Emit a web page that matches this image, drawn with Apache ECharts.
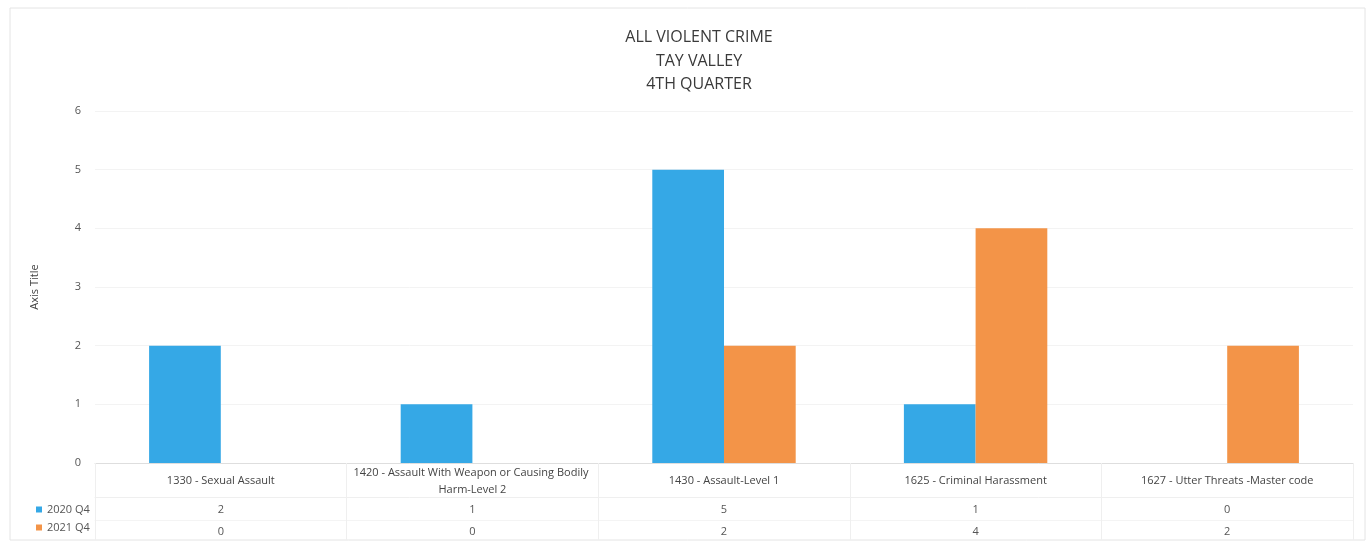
<!DOCTYPE html>
<html>
<head>
<meta charset="utf-8">
<script src="https://cdn.jsdelivr.net/npm/echarts@6/dist/echarts.min.js"></script>
<style>
html,body{margin:0;padding:0;background:#fff;}
#chart{width:1372px;height:546px;}
</style>
</head>
<body>
<div id="chart"></div>
<script>
const categories = [
  '1330 - Sexual Assault',
  '1420 - Assault With Weapon or Causing Bodily Harm-Level 2',
  '1430 - Assault-Level 1',
  '1625 - Criminal Harassment',
  '1627 - Utter Threats -Master code'
];
const seriesNames = ['2020 Q4', '2021 Q4'];
const values2020 = [2, 1, 5, 1, 0];
const values2021 = [0, 0, 2, 4, 2];
const yTicks = [0, 1, 2, 3, 4, 5, 6];

const FONT = 'Open Sans';
const chart = echarts.init(document.getElementById('chart'), null, {renderer: 'canvas'});
chart.setOption({
  backgroundColor: '#fff',
  textStyle: {fontFamily: FONT},
  animation: false,
  title: {
    text: 'ALL VIOLENT CRIME\nTAY VALLEY\n4TH QUARTER',
    left: 694,
    textAlign: 'center',
    top: 21,
    textStyle: {fontFamily: FONT, fontSize: 16, fontWeight: 'normal', color: '#3a3a3a', lineHeight: 23.5}
  },
  legend: {
    data: seriesNames,
    orient: 'vertical',
    left: 31,
    top: 499,
    itemWidth: 6,
    itemHeight: 6,
    itemGap: 7,
    icon: 'rect',
    textStyle: {fontFamily: FONT, fontSize: 11, color: '#555'}
  },
  graphic: [{
    type: 'rect',
    shape: {x: 10, y: 8, width: 1355, height: 532},
    style: {fill: 'none', stroke: '#e4e4e4', lineWidth: 1},
    silent: true
  }],
  grid: {left: 95, right: 19, top: 111, bottom: 83, containLabel: false},
  xAxis: [
    {
      type: 'category',
      data: categories,
      position: 'bottom',
      axisLine: {lineStyle: {color: '#dedede'}},
      axisTick: {show: true, interval: 0, length: 77, lineStyle: {color: '#efefef'}},
      axisLabel: {
        interval: 0, width: 245, overflow: 'break', verticalAlign: 'middle',
        margin: 18, fontSize: 11, lineHeight: 17, color: '#444'
      },
      splitLine: {show: false}
    },
    {
      type: 'category',
      data: values2020.map(String),
      position: 'bottom',
      offset: 34,
      axisLine: {lineStyle: {color: '#efefef'}},
      axisTick: {show: false},
      axisLabel: {interval: 0, margin: 7, fontSize: 11, color: '#555'}
    },
    {
      type: 'category',
      data: values2021.map(String),
      position: 'bottom',
      offset: 57,
      axisLine: {lineStyle: {color: '#f4f4f4'}},
      axisTick: {show: false},
      axisLabel: {interval: 0, margin: 6, fontSize: 11, color: '#555'}
    }
  ],
  yAxis: {
    type: 'value',
    min: yTicks[0],
    max: yTicks[yTicks.length - 1],
    interval: 1,
    name: 'Axis Title',
    nameLocation: 'middle',
    nameRotate: 90,
    nameGap: 55,
    nameTextStyle: {fontFamily: FONT, fontSize: 11, color: '#444'},
    axisLine: {show: false},
    axisTick: {show: false},
    axisLabel: {margin: 14, fontSize: 11, color: '#555'},
    splitLine: {lineStyle: {color: '#f3f3f3'}}
  },
  series: [
    {
      name: seriesNames[0], type: 'bar', xAxisIndex: 0, data: values2020,
      itemStyle: {color: '#35A8E6'}, barGap: '0%', barCategoryGap: '43%'
    },
    {
      name: seriesNames[1], type: 'bar', xAxisIndex: 0, data: values2021,
      itemStyle: {color: '#F39448'}, barGap: '0%', barCategoryGap: '43%'
    }
  ]
});
</script>
</body>
</html>
